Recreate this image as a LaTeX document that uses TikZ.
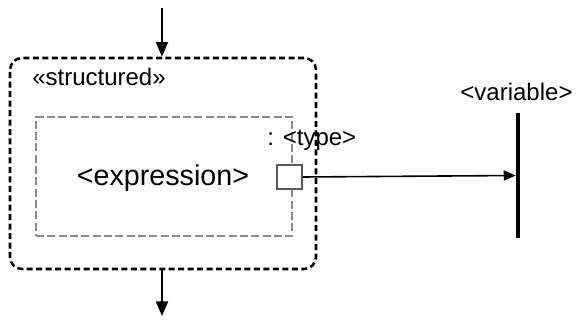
\documentclass[tikz,border=0pt]{standalone}
\usepackage{fontspec}
\setmainfont{Liberation Sans}
\usetikzlibrary{arrows.meta,positioning}

\tikzset{
  outerbox/.style={draw, line width=1.9pt, dash pattern=on 4.5pt off 2.6pt,
    rounded corners=9pt, minimum width=229.5pt, minimum height=158.25pt},
  innerbox/.style={draw=black!45, line width=1.1pt, dash pattern=on 6pt off 2.5pt,
    minimum width=192pt, minimum height=89.25pt},
  portbox/.style={draw=black!65, fill=white, line width=0.9pt,
    minimum width=18.75pt, minimum height=18pt},
  varbar/.style={fill=black, minimum width=3pt, minimum height=93.75pt},
  flow/.style={line width=1.6pt, -{Triangle[length=11pt, width=9pt]}},
  bind/.style={line width=1.2pt, -{Triangle[length=9pt, width=7.5pt]}}
}

\begin{document}
\begin{tikzpicture}[x=0.75pt, y=-0.75pt,
    every node/.style={inner sep=0pt, font=\fontsize{18}{20}\selectfont}]
  \useasboundingbox (0,0) rectangle (577,321);
  % structured node with its expression
  \node[outerbox] (structured) at (163,163.5) {};
  \node[anchor=west] (stereo) at (32,77) {«structured»};
  \node[innerbox] (expr) at (164,176.5) {};
  \node[font=\fontsize{21.5}{24}\selectfont] (exprlabel) at (163,178) {<expression>};
  % output port and its type
  \node[portbox] (port) at (289.5,177) {};
  \node[anchor=west] (type) at (267,140) {: <type>};
  % variable
  \node[varbar] (variable) at (518,175.5) {};
  \node (varlabel) at (516.5,92) {<variable>};
  % flow in and out
  \coordinate (top) at (162,8);
  \coordinate (bottom) at (162,316);
  \draw[flow] (top) -- (top |- structured.north);
  \draw[flow] (structured.south -| bottom) -- (bottom);
  \draw[bind] (port.east) -- (variable.west);
\end{tikzpicture}
\end{document}
